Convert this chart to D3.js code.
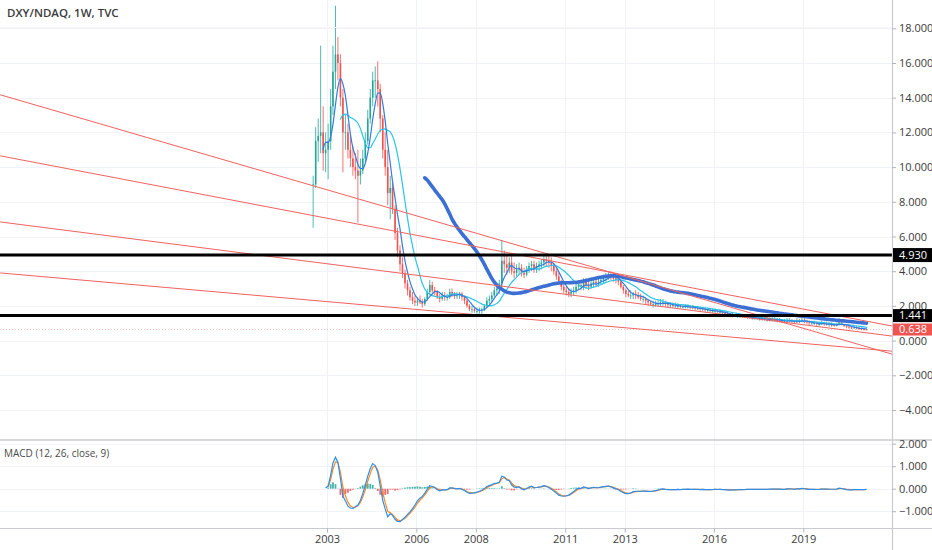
<!DOCTYPE html>
<html>
<head>
<meta charset="utf-8">
<script src="https://cdn.jsdelivr.net/npm/d3@7"></script>
<style>
  body { margin: 0; background: #fff; }
  svg { display: block; }
  text { font-family: "Open Sans", "Noto Sans", sans-serif; }
</style>
</head>
<body>
<div id="chart"></div>
<script>
/*
*    DXY/NDAQ weekly chart with MAs, trend lines and MACD
*/

// monthly bars, Jul 2002 .. Feb 2021
var closes = [
  9.0, 11.5, 11.8, 12.0, 10.8, 11.0,                                  // 2002
  11.5, 13.5, 15.5, 16.5, 16.0, 14.0, 12.0, 12.0, 11.0, 10.5, 10.0, 9.8,  // 2003
  9.5, 9.8, 10.5, 11.5, 12.8, 14.0, 15.0, 15.0, 14.5, 12.8, 11.0, 10.0,   // 2004
  8.5, 8.8, 7.6, 6.2, 5.2, 4.4, 3.9, 3.3, 2.9, 2.5, 2.3, 2.2,             // 2005
  2.3, 2.2, 2.1, 2.4, 2.8, 3.2, 2.9, 2.8, 2.5, 2.4, 2.6, 2.5,             // 2006
  2.5, 2.8, 2.7, 2.6, 2.6, 2.7, 2.5, 2.3, 2.0, 1.8, 1.8, 1.7,             // 2007
  1.7, 1.75, 1.8, 2.0, 2.3, 2.4, 2.6, 2.9, 3.0, 3.3, 4.6, 4.4,            // 2008
  4.2, 4.5, 4.0, 3.9, 4.1, 4.2, 3.9, 3.8, 4.1, 4.3, 4.4, 4.1,             // 2009
  4.3, 4.4, 4.5, 4.7, 4.6, 4.5, 4.3, 4.0, 3.7, 3.3, 3.1, 2.9,             // 2010
  2.8, 2.7, 2.8, 2.9, 3.1, 3.2, 3.1, 3.4, 3.2, 3.1, 3.3, 3.4,             // 2011
  3.3, 3.4, 3.5, 3.6, 3.7, 3.8, 3.7, 3.6, 3.5, 3.4, 3.1, 2.9,             // 2012
  2.7, 2.6, 2.6, 2.7, 2.6, 2.5, 2.4, 2.4, 2.3, 2.2, 2.1, 2.1,             // 2013
  2.1, 2.15, 2.2, 2.2, 2.1, 2.05, 2.05, 2.0, 2.0, 2.0, 1.95, 1.95,        // 2014
  1.95, 1.95, 1.9, 1.9, 1.85, 1.85, 1.8, 1.8, 1.75, 1.75, 1.7, 1.7,       // 2015
  1.7, 1.65, 1.65, 1.6, 1.55, 1.5, 1.45, 1.45, 1.4, 1.4, 1.4, 1.35,       // 2016
  1.35, 1.35, 1.3, 1.3, 1.3, 1.25, 1.25, 1.25, 1.2, 1.2, 1.2, 1.2,        // 2017
  1.2, 1.15, 1.15, 1.1, 1.1, 1.15, 1.15, 1.1, 1.05, 1.15, 1.1, 1.2,       // 2018
  1.1, 1.05, 1.0, 1.0, 1.0, 0.95, 0.95, 1.0, 0.95, 0.95, 0.9, 0.9,        // 2019
  0.88, 0.9, 1.05, 0.95, 0.85, 0.8, 0.75, 0.72, 0.75, 0.72, 0.68, 0.66,   // 2020
  0.64, 0.638                                                         // 2021
];
var highs = [
  9.5, 12.3, 12.8, 17.0, 13.5, 12.0,
  12.5, 14.5, 17.0, 19.3, 17.5, 16.5, 14.5, 13.0, 12.5, 11.8, 11.2, 10.8,
  11.0, 10.5, 11.0, 12.0, 13.3, 14.5, 15.5, 15.8, 16.1, 14.8, 13.0, 12.0,
  11.0, 9.5, 9.2, 7.8, 6.5, 5.5, 4.8, 4.1, 3.5, 3.1, 2.8, 2.6,
  2.5, 2.6, 2.4, 2.5, 3.0, 3.5, 3.4, 3.1, 2.9, 2.7, 2.8, 2.8,
  2.7, 3.0, 3.0, 2.8, 2.8, 2.8, 2.8, 2.6, 2.4, 2.1, 2.0, 1.9,
  1.9, 1.9, 1.9, 2.1, 2.5, 2.6, 2.8, 3.1, 3.3, 3.5, 5.8, 5.2,
  4.9, 4.8, 4.9, 4.5, 4.4, 4.5, 4.4, 4.2, 4.3, 4.5, 4.6, 4.6,
  4.5, 4.6, 4.7, 4.9, 5.0, 4.9, 4.8, 4.5, 4.2, 3.9, 3.5, 3.3,
  3.1, 3.0, 3.0, 3.1, 3.3, 3.5, 3.5, 3.6, 3.6, 3.5, 3.5, 3.6,
  3.6, 3.6, 3.7, 3.8, 3.9, 4.0, 4.0, 3.9, 3.9, 3.8, 3.5, 3.2,
  3.0, 2.9, 2.9, 2.8, 2.9, 2.8, 2.7, 2.6, 2.5, 2.4, 2.3, 2.3,
  2.3, 2.3, 2.4, 2.4, 2.3, 2.2, 2.2, 2.2, 2.2, 2.15, 2.1, 2.1,
  2.1, 2.1, 2.05, 2.05, 2.0, 2.0, 1.95, 1.95, 1.9, 1.9, 1.85, 1.85,
  1.85, 1.8, 1.8, 1.75, 1.7, 1.65, 1.6, 1.6, 1.55, 1.55, 1.55, 1.5,
  1.5, 1.5, 1.45, 1.45, 1.45, 1.4, 1.4, 1.4, 1.35, 1.35, 1.35, 1.35,
  1.35, 1.3, 1.3, 1.25, 1.25, 1.3, 1.3, 1.25, 1.2, 1.3, 1.25, 1.35,
  1.3, 1.2, 1.15, 1.15, 1.15, 1.1, 1.1, 1.15, 1.1, 1.1, 1.05, 1.05,
  1.0, 1.05, 1.3, 1.1, 0.95, 0.9, 0.85, 0.82, 0.85, 0.82, 0.78, 0.75,
  0.72, 0.7
];
var lows = [
  6.5, 8.8, 10.3, 10.8, 9.8, 9.7,
  9.3, 11.0, 13.0, 14.5, 15.0, 13.5, 9.7, 11.0, 10.5, 10.0, 9.5, 9.3,
  6.8, 9.0, 9.6, 10.3, 11.3, 12.5, 13.5, 14.0, 13.5, 12.0, 10.5, 9.5,
  7.8, 7.0, 7.3, 5.8, 4.8, 4.0, 3.6, 3.0, 2.6, 2.3, 2.1, 2.0,
  2.0, 2.1, 1.9, 2.0, 2.3, 2.6, 2.7, 2.6, 2.4, 2.2, 2.3, 2.3,
  2.3, 2.4, 2.5, 2.4, 2.4, 2.4, 2.3, 2.1, 1.9, 1.7, 1.6, 1.6,
  1.5, 1.55, 1.5, 1.7, 1.9, 2.1, 2.2, 2.4, 2.6, 2.7, 3.1, 3.9,
  3.8, 3.9, 3.8, 3.6, 3.7, 3.8, 3.7, 3.6, 3.7, 3.9, 4.0, 3.9,
  3.9, 4.0, 4.1, 4.3, 4.3, 4.2, 4.0, 3.8, 3.5, 3.2, 2.9, 2.7,
  2.6, 2.5, 2.5, 2.6, 2.7, 2.9, 2.9, 2.9, 3.0, 2.9, 3.0, 3.1,
  3.1, 3.1, 3.2, 3.3, 3.4, 3.5, 3.5, 3.4, 3.3, 3.2, 3.0, 2.7,
  2.5, 2.5, 2.4, 2.4, 2.4, 2.4, 2.3, 2.2, 2.1, 2.0, 2.0, 1.9,
  1.95, 1.95, 2.0, 2.0, 1.95, 1.9, 1.9, 1.9, 1.9, 1.85, 1.85, 1.85,
  1.85, 1.85, 1.8, 1.8, 1.75, 1.75, 1.7, 1.7, 1.65, 1.65, 1.6, 1.6,
  1.6, 1.55, 1.55, 1.5, 1.45, 1.4, 1.35, 1.35, 1.35, 1.3, 1.3, 1.3,
  1.3, 1.25, 1.25, 1.2, 1.2, 1.2, 1.15, 1.15, 1.15, 1.1, 1.1, 1.1,
  1.1, 1.05, 1.05, 1.0, 1.0, 1.05, 1.05, 1.0, 0.95, 1.0, 1.0, 1.05,
  1.0, 0.95, 0.9, 0.9, 0.9, 0.85, 0.85, 0.9, 0.85, 0.85, 0.8, 0.8,
  0.8, 0.82, 0.9, 0.88, 0.78, 0.72, 0.68, 0.66, 0.68, 0.65, 0.62, 0.6,
  0.58, 0.6
];

var yearTicks = [2003, 2006, 2008, 2011, 2013, 2016, 2019];
var priceTicks = [-4, -2, 0, 2, 4, 6, 8, 10, 12, 14, 16, 18];
var macdTicks = [-1, 0, 1, 2];
var levels = [4.930, 1.441];
var lastPrice = 0.638;
// drawn trend lines: [start year, value, end year, value]
var trendLines = [
  [1992.02, 14.17, 2021.98, -0.78],
  [1992.02, 10.65, 2021.98, 0.84],
  [1992.02, 6.84, 2021.98, 0.26],
  [1992.02, 3.90, 2021.98, -0.61]
];

var W = 932, H = 550;
var paneRight = 892;
var mainBottom = 440, macdBottom = 528.5;
var upColour = "#26a69a", downColour = "#ef5350";

var svg = d3.select("#chart")
    .append("svg")
    .attr("width", W)
    .attr("height", H);

var months = closes.map(function(d, i){ return new Date(2002, 6 + i, 15); });
function yearDate(v){
    var yr = Math.floor(v);
    return new Date(new Date(yr, 0, 1).getTime() + (v - yr) * 365.25 * 864e5);
}

// scales
var x = d3.scaleTime()
    .domain([new Date(2003, 0, 1), new Date(2019, 0, 1)])
    .range([327, 803.3]);
var y = d3.scaleLinear().domain([-4, 18]).range([410, 28.3]);
var yM = d3.scaleLinear().domain([-1, 2]).range([511.2, 443.7]);

var defs = svg.append("defs");
defs.append("clipPath").attr("id", "clipMain")
    .append("rect").attr("x", 0).attr("y", 0).attr("width", paneRight).attr("height", mainBottom);
defs.append("clipPath").attr("id", "clipMacd")
    .append("rect").attr("x", 0).attr("y", mainBottom).attr("width", paneRight).attr("height", macdBottom - mainBottom);

// grid
var grid = svg.append("g").attr("stroke", "#f0f3fa").attr("stroke-width", 1);
yearTicks.forEach(function(yr){
    var xx = Math.round(x(new Date(yr, 0, 1))) + 0.5;
    grid.append("line").attr("x1", xx).attr("x2", xx).attr("y1", 0).attr("y2", macdBottom);
});
priceTicks.forEach(function(v){
    var yy = Math.round(y(v)) + 0.5;
    grid.append("line").attr("x1", 0).attr("x2", paneRight).attr("y1", yy).attr("y2", yy);
});
macdTicks.forEach(function(v){
    var yy = Math.round(yM(v)) + 0.5;
    grid.append("line").attr("x1", 0).attr("x2", paneRight).attr("y1", yy).attr("y2", yy);
});

var main = svg.append("g").attr("clip-path", "url(#clipMain)");

// candles
var bars = closes.map(function(c, i){
    var o = i > 0 ? closes[i - 1] : c;
    return { date: months[i], o: o, c: c,
             h: Math.max(highs[i], o, c), l: Math.min(lows[i], o, c) };
});
var candle = main.append("g").selectAll("g")
    .data(bars)
    .enter()
    .append("g")
    .attr("fill", function(d){ return d.c >= d.o ? upColour : downColour; })
    .attr("stroke", function(d){ return d.c >= d.o ? upColour : downColour; });
candle.append("line")
    .attr("x1", function(d){ return x(d.date); })
    .attr("x2", function(d){ return x(d.date); })
    .attr("y1", function(d){ return y(d.h); })
    .attr("y2", function(d){ return y(d.l); })
    .attr("stroke-width", 0.8);
candle.append("rect")
    .attr("x", function(d){ return x(d.date) - 0.8; })
    .attr("y", function(d){ return y(Math.max(d.o, d.c)); })
    .attr("width", 1.6)
    .attr("height", function(d){ return Math.max(0.8, Math.abs(y(d.o) - y(d.c))); })
    .attr("stroke", "none");

// moving averages (20, 50, 200 weeks ~ 5, 12, 46 months)
function sma(vals, n){
    return vals.map(function(v, i){
        if (i < n - 1) return null;
        return d3.mean(vals.slice(i - n + 1, i + 1));
    });
}
var maLine = d3.line()
    .defined(function(d){ return d[1] != null; })
    .x(function(d){ return x(d[0]); })
    .y(function(d){ return y(d[1]); })
    .curve(d3.curveMonotoneX);
function drawMa(n, colour, w){
    var vals = sma(closes, n);
    main.append("path")
        .datum(months.map(function(m, i){ return [m, vals[i]]; }))
        .attr("fill", "none")
        .attr("stroke", colour)
        .attr("stroke-width", w)
        .attr("stroke-linecap", "round")
        .attr("d", maLine);
}
drawMa(12, "#29c5e6", 1.2);
drawMa(5, "#2f7de1", 1.2);
drawMa(46, "#3b6fd4", 3.6);

// trend lines
trendLines.forEach(function(t){
    main.append("line")
        .attr("x1", x(yearDate(t[0]))).attr("y1", y(t[1]))
        .attr("x2", x(yearDate(t[2]))).attr("y2", y(t[3]))
        .attr("stroke", "#f0625f")
        .attr("stroke-width", 1);
});

// last price line
main.append("line")
    .attr("x1", 0).attr("x2", paneRight)
    .attr("y1", y(lastPrice)).attr("y2", y(lastPrice))
    .attr("stroke", "#ef5350").attr("stroke-opacity", 0.35)
    .attr("stroke-dasharray", "1,2");

// horizontal levels
levels.forEach(function(v){
    main.append("line")
        .attr("x1", 0).attr("x2", paneRight)
        .attr("y1", y(v)).attr("y2", y(v))
        .attr("stroke", "#000").attr("stroke-width", 3);
});

// MACD (12, 26, 9 weeks) on monthly bars, EMA seeded with an SMA
function ema(vals, n){
    var k = Math.max(1, Math.round(n * 12 / 52));
    var a = 1 - Math.pow(1 - 2 / (n + 1), 52 / 12);
    var out = [], e = null, start = -1;
    vals.forEach(function(v, i){
        if (v == null) { out.push(null); return; }
        if (start < 0) start = i;
        if (i - start < k - 1) { out.push(null); return; }
        if (e == null) e = d3.mean(vals.slice(i - k + 1, i + 1));
        else e = a * v + (1 - a) * e;
        out.push(e);
    });
    return out;
}
var fast = ema(closes, 12), slow = ema(closes, 26);
var macd = closes.map(function(c, i){
    return (fast[i] == null || slow[i] == null) ? null : fast[i] - slow[i];
});
var signal = ema(macd, 9);
var macdRows = months.map(function(m, i){ return { date: m, m: macd[i], s: signal[i] }; });

var mg = svg.append("g").attr("clip-path", "url(#clipMacd)");
mg.append("g").selectAll("rect")
    .data(macdRows.filter(function(d){ return d.s != null; }))
    .enter()
    .append("rect")
    .attr("x", function(d){ return x(d.date) - 0.9; })
    .attr("width", 1.8)
    .attr("y", function(d){ return Math.min(yM(0), yM(d.m - d.s)); })
    .attr("height", function(d){ return Math.abs(yM(d.m - d.s) - yM(0)); })
    .attr("fill", function(d){ return d.m - d.s >= 0 ? "#26a69a" : "#ef5350"; })
    .attr("fill-opacity", 0.85);

var macdLine = d3.line()
    .defined(function(d){ return d[1] != null; })
    .x(function(d){ return x(d[0]); })
    .y(function(d){ return yM(d[1]); });
mg.append("path")
    .datum(macdRows.map(function(d){ return [d.date, d.s]; }))
    .attr("fill", "none").attr("stroke", "#ff8a1e").attr("stroke-width", 1.2)
    .attr("d", macdLine);
mg.append("path")
    .datum(macdRows.map(function(d){ return [d.date, d.m]; }))
    .attr("fill", "none").attr("stroke", "#2b8ff0").attr("stroke-width", 1.2)
    .attr("d", macdLine);

// pane borders
svg.append("line").attr("x1", 0).attr("x2", W).attr("y1", mainBottom).attr("y2", mainBottom)
    .attr("stroke", "#c9cbd1").attr("stroke-width", 1.5);
svg.append("line").attr("x1", 0).attr("x2", W).attr("y1", macdBottom).attr("y2", macdBottom)
    .attr("stroke", "#c9cbd1").attr("stroke-width", 1.2);
svg.append("line").attr("x1", paneRight + 0.5).attr("x2", paneRight + 0.5).attr("y1", 0).attr("y2", H)
    .attr("stroke", "#c9cbd1").attr("stroke-width", 1.2);

// axes
var priceAxis = d3.axisRight(y).tickValues(priceTicks).tickFormat(d3.format(".3f")).tickSize(4).tickPadding(3);
svg.append("g").attr("class", "axis")
    .attr("transform", "translate(" + paneRight + ",0)")
    .call(priceAxis);
var macdAxis = d3.axisRight(yM).tickValues(macdTicks).tickFormat(d3.format(".3f")).tickSize(4).tickPadding(3);
svg.append("g").attr("class", "axis")
    .attr("transform", "translate(" + paneRight + ",0)")
    .call(macdAxis);
var timeAxis = d3.axisBottom(x)
    .tickValues(yearTicks.map(function(yr){ return new Date(yr, 0, 1); }))
    .tickFormat(d3.timeFormat("%Y")).tickSize(4).tickPadding(3);
svg.append("g").attr("class", "axis")
    .attr("transform", "translate(0," + macdBottom + ")")
    .call(timeAxis);
svg.selectAll(".axis .domain").remove();
svg.selectAll(".axis line").attr("stroke", "#b2b5be");
svg.selectAll(".axis text").attr("fill", "#3b3b3b").attr("font-size", 11);

// price labels on the axis
function priceTag(v, bg, top, bottom){
    var g = svg.append("g").attr("transform", "translate(" + paneRight + "," + y(v) + ")");
    g.append("rect").attr("x", 1).attr("y", -top).attr("width", W - paneRight - 1)
        .attr("height", top + bottom).attr("fill", bg);
    g.append("text").attr("x", 7).attr("dy", "0.35em").attr("font-size", 11).attr("fill", "#fff")
        .text(d3.format(".3f")(v));
}
priceTag(levels[0], "#000", 7, 7);
priceTag(levels[1], "#000", 6.5, 6.5);
priceTag(lastPrice, "#f05350", 6, 6);

// titles
svg.append("text").attr("x", 7).attr("y", 17).attr("font-size", 11.5).attr("font-weight", 600)
    .attr("fill", "#3b3b3b").text("DXY/NDAQ, 1W, TVC");
svg.append("line").attr("x1", 0).attr("x2", paneRight).attr("y1", 27.5).attr("y2", 27.5)
    .attr("stroke", "#f6f6f6");
svg.append("text").attr("x", 4).attr("y", 457).attr("font-size", 10).attr("fill", "#4a4a4a")
    .text("MACD (12, 26, close, 9)");
</script>
</body>
</html>
